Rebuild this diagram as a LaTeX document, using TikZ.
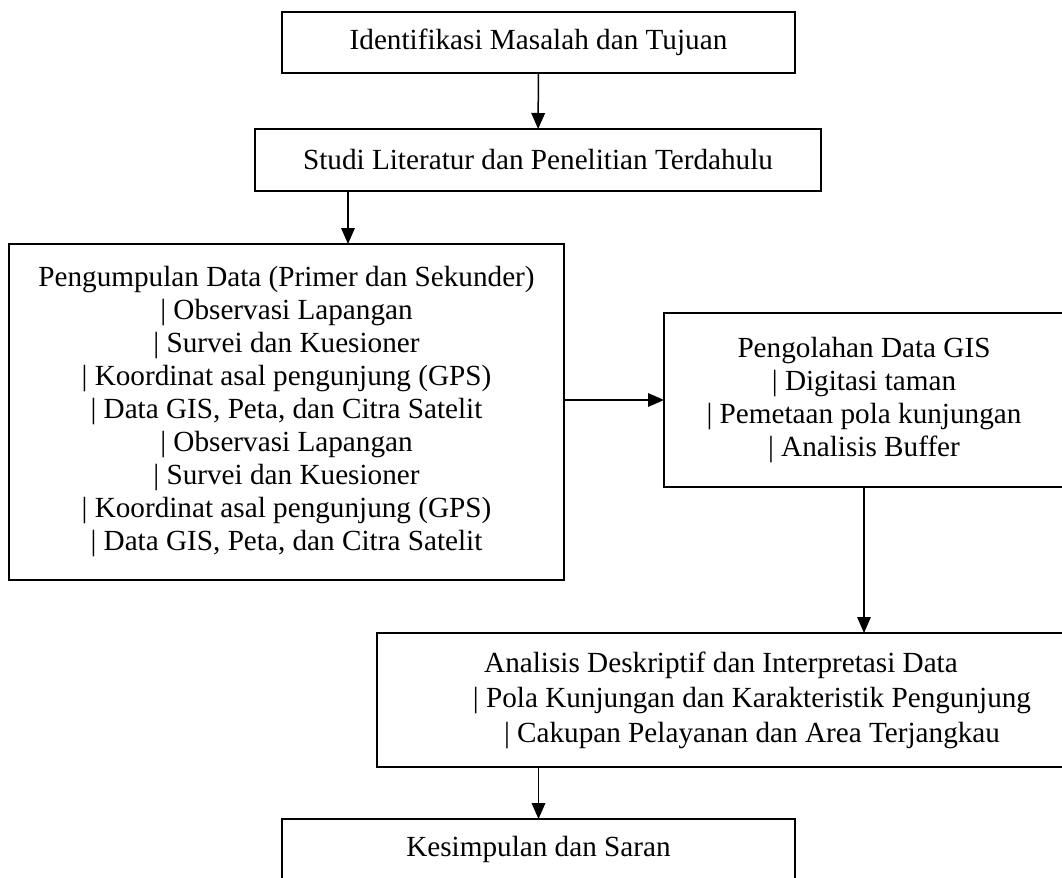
\documentclass[tikz,border=0pt]{standalone}
\usepackage{fontspec}
\setmainfont{Liberation Serif}
\usetikzlibrary{arrows.meta}
\tikzstyle{edge}=[-{Triangle[length=8pt,width=6.8pt]}, line width=0.75pt]
\tikzstyle{box}=[draw, rectangle, line width=0.8pt,
                 inner sep=0pt, outer sep=0pt, align=center,
                 font=\fontsize{14.6}{16.5}\selectfont]

\begin{document}
\begin{tikzpicture}[x=0.5pt, y=-0.5pt]
    \useasboundingbox (0,0) rectangle (1062,878);
    \clip (0,0) rectangle (1062,878);

      \node (idtuj) at (538.5,42.5) [box, minimum width=256.5pt, minimum height=30.5pt]
        {Identifikasi Masalah dan Tujuan};
      \node (studi) at (538,160) [box, minimum width=283pt, minimum height=31pt]
        {Studi Literatur dan Penelitian Terdahulu};
      \node (kumpul) at (286.5,412) [box, minimum width=277.5pt, minimum height=168pt]
        {Pengumpulan Data (Primer dan Sekunder)\\
         | Observasi Lapangan\\
         | Survei dan Kuesioner\\
         | Koordinat asal pengunjung (GPS)\\
         | Data GIS, Peta, dan Citra Satelit\\
         | Observasi Lapangan\\
         | Survei dan Kuesioner\\
         | Koordinat asal pengunjung (GPS)\\
         | Data GIS, Peta, dan Citra Satelit};
      \node (olah) at (864,400) [box, minimum width=200pt, minimum height=87pt]
        {Pengolahan Data GIS\\
         | Digitasi taman\\
         | Pemetaan pola kunjungan\\
         | Analisis Buffer};
      \node (analisis) at (752,700) [box, minimum width=375pt, minimum height=67pt,
                                     font=\fontsize{14.6}{17.5}\selectfont]
        {Analisis Deskriptif dan Interpretasi Data\hspace*{31pt}\\
         | Pola Kunjungan dan Karakteristik Pengunjung\\
         | Cakupan Pelayanan dan Area Terjangkau};
      \node (simpul) at (538.5,849.5) [box, minimum width=256.5pt, minimum height=30.5pt]
        {Kesimpulan dan Saran};

      \coordinate (a2) at (348,0);

      \draw [edge] (idtuj) -- (studi);
      \draw [edge] (studi.south -| a2) -- (kumpul.north -| a2);
      \draw [edge] (kumpul.east |- olah.west) -- (olah.west);
      \draw [edge] (olah.south) -- (analisis.north -| olah.south);
      \draw [edge] (analisis.south -| simpul.north) -- (simpul.north);
    \end{tikzpicture}
\end{document}
